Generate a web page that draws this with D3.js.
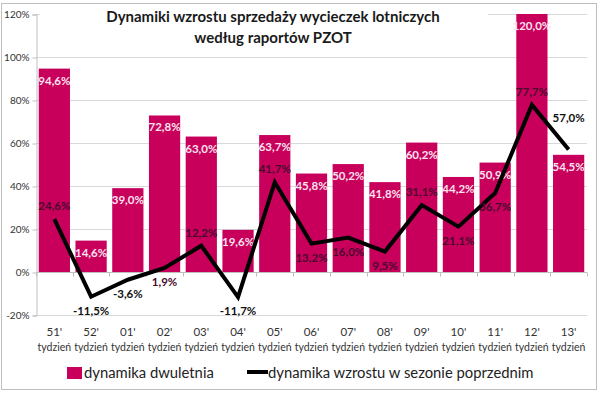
<!DOCTYPE html>
<html lang="pl">
<head>
<meta charset="utf-8">
<title>Dynamiki wzrostu sprzedaży wycieczek lotniczych</title>
<script src="https://cdn.jsdelivr.net/npm/d3@7"></script>
<style>
  body { margin: 0; background: #fff; }
  text { font-family: Lato, "Open Sans", sans-serif; }
</style>
</head>
<body>
<div id="chart"></div>
<script>
  // data
  var weeks = ["51'", "52'", "01'", "02'", "03'", "04'", "05'", "06'", "07'", "08'", "09'", "10'", "11'", "12'", "13'"];
  var biennial = [94.6, 14.6, 39.0, 72.8, 63.0, 19.6, 63.7, 45.8, 50.2, 41.8, 60.2, 44.2, 50.9, 120.0, 54.5];
  var prevSeason = [24.6, -11.5, -3.6, 1.9, 12.2, -11.7, 41.7, 13.2, 16.0, 9.5, 31.1, 21.1, 36.7, 77.7, 57.0];
  // where the line label sits: a = above, b = below, t = well above
  var prevLabelPos = ["a", "b", "b", "b", "a", "b", "a", "b", "b", "b", "a", "b", "b", "a", "t"];
  var yTicks = [-20, 0, 20, 40, 60, 80, 100, 120];

  var width = 600, height = 393;
  var barColor = "#c8005c";
  var fmt = function (v) { return v.toFixed(1).replace(".", ",") + "%"; };

  var svg = d3.select("#chart").append("svg")
    .attr("width", width)
    .attr("height", height);

  // outer frame
  svg.append("rect")
    .attr("x", 1.5).attr("y", 3.5)
    .attr("width", 595).attr("height", 386)
    .attr("fill", "#fff").attr("stroke", "#bfbfbf");

  var x = d3.scaleBand()
    .domain(weeks)
    .range([36, 587])
    .paddingInner(0.15)
    .paddingOuter(0.075);

  var y = d3.scaleLinear()
    .domain([-20, 120])
    .range([315, 14]);

  // gridlines
  svg.append("g")
    .selectAll("line")
    .data(yTicks)
    .join("line")
    .attr("x1", 36).attr("x2", 587)
    .attr("y1", function (d) { return Math.round(y(d)) + 0.5; })
    .attr("y2", function (d) { return Math.round(y(d)) + 0.5; })
    .attr("stroke", "#d9d9d9");

  // y axis
  var yAxis = svg.append("g")
    .attr("transform", "translate(36.5,0.5)")
    .call(d3.axisLeft(y).tickValues(yTicks).tickSize(4).tickFormat(function (d) { return d + "%"; }));
  yAxis.select(".domain").attr("stroke", "#bfbfbf");
  yAxis.selectAll(".tick line").attr("stroke", "#bfbfbf");
  yAxis.selectAll(".tick text")
    .attr("font-family", "Lato, sans-serif")
    .attr("font-size", 10)
    .attr("fill", "#333");

  // bars
  svg.append("g")
    .selectAll("rect")
    .data(biennial)
    .join("rect")
    .attr("x", function (d, i) { return x(weeks[i]); })
    .attr("width", x.bandwidth())
    .attr("y", function (d) { return y(d); })
    .attr("height", function (d) { return y(0) - y(d); })
    .attr("fill", barColor);

  // zero axis with ticks between categories
  var zy = Math.round(y(0)) + 0.5;
  svg.append("line")
    .attr("x1", 36).attr("x2", 587)
    .attr("y1", zy).attr("y2", zy)
    .attr("stroke", "#bfbfbf");
  svg.append("g")
    .selectAll("line")
    .data(d3.range(weeks.length + 1))
    .join("line")
    .attr("x1", function (i) { return Math.round(36 + i * (551 / weeks.length)) + 0.5; })
    .attr("x2", function (i) { return Math.round(36 + i * (551 / weeks.length)) + 0.5; })
    .attr("y1", zy).attr("y2", zy + 4)
    .attr("stroke", "#bfbfbf");

  // bar labels
  svg.append("g")
    .selectAll("text")
    .data(biennial)
    .join("text")
    .attr("x", function (d, i) { return x(weeks[i]) + x.bandwidth() / 2; })
    .attr("y", function (d) { return y(d) + 16; })
    .attr("text-anchor", "middle")
    .attr("font-size", 11.5)
    .attr("font-weight", "bold")
    .attr("fill", "#fbe3ef")
    .text(fmt);

  // line
  var line = d3.line()
    .x(function (d, i) { return x(weeks[i]) + x.bandwidth() / 2; })
    .y(function (d) { return y(d); });

  svg.append("path")
    .datum(prevSeason)
    .attr("d", line)
    .attr("fill", "none")
    .attr("stroke", "#000")
    .attr("stroke-width", 4)
    .attr("stroke-linejoin", "miter");

  var offsets = { a: -9, b: 18, t: -27 };
  svg.append("g")
    .selectAll("text")
    .data(prevSeason)
    .join("text")
    .attr("x", function (d, i) { return x(weeks[i]) + x.bandwidth() / 2; })
    .attr("y", function (d, i) { return y(d) + offsets[prevLabelPos[i]]; })
    .attr("text-anchor", "middle")
    .attr("font-size", 11.5)
    .attr("font-weight", "bold")
    .attr("fill", function (d, i) {
      var onBar = d > 0 && d < biennial[i];
      return onBar ? "#4a0a2c" : "#111";
    })
    .text(fmt);

  // x labels
  var xl = svg.append("g")
    .selectAll("text")
    .data(weeks)
    .join("text")
    .attr("text-anchor", "middle")
    .attr("font-size", 10.5)
    .attr("fill", "#333");
  xl.append("tspan").attr("x", function (d) { return x(d) + x.bandwidth() / 2; })
    .attr("y", 336).attr("font-size", 11.5).text(function (d) { return d; });
  xl.append("tspan").attr("x", function (d) { return x(d) + x.bandwidth() / 2; })
    .attr("y", 351).text("tydzień");

  // title, on a white box like the original
  svg.append("rect")
    .attr("x", 40).attr("y", 5)
    .attr("width", 448).attr("height", 44)
    .attr("fill", "#fff");
  svg.append("text")
    .attr("x", 273).attr("y", 22)
    .attr("text-anchor", "middle")
    .attr("font-size", 15)
    .attr("font-weight", "bold")
    .attr("fill", "#1a1a1a")
    .text("Dynamiki wzrostu sprzedaży wycieczek lotniczych");
  svg.append("text")
    .attr("x", 273).attr("y", 43)
    .attr("text-anchor", "middle")
    .attr("font-size", 15)
    .attr("font-weight", "bold")
    .attr("fill", "#1a1a1a")
    .text("według raportów PZOT");

  // legend
  var lg = svg.append("g");
  lg.append("rect")
    .attr("x", 67).attr("y", 367)
    .attr("width", 15).attr("height", 12)
    .attr("fill", barColor);
  lg.append("text")
    .attr("x", 84).attr("y", 378)
    .attr("font-size", 14.8)
    .attr("fill", "#222")
    .text("dynamika dwuletnia");
  lg.append("line")
    .attr("x1", 247).attr("x2", 268)
    .attr("y1", 372).attr("y2", 372)
    .attr("stroke", "#000")
    .attr("stroke-width", 4);
  lg.append("text")
    .attr("x", 268).attr("y", 378)
    .attr("font-size", 14.8)
    .attr("fill", "#222")
    .text("dynamika wzrostu w sezonie poprzednim");
</script>
</body>
</html>
